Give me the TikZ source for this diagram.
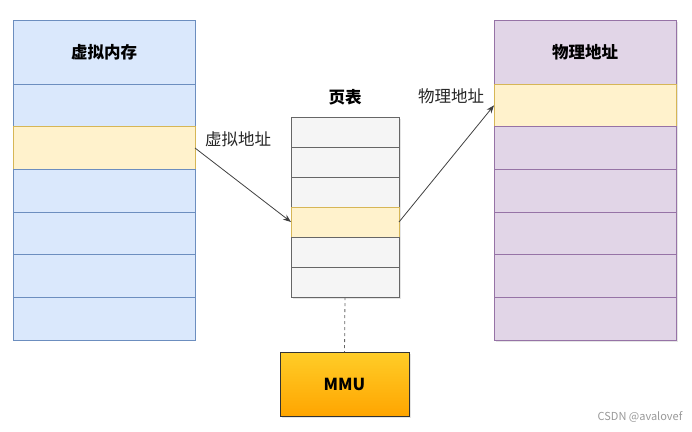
\documentclass[tikz,border=0pt]{standalone}
\usepackage{fontspec}
\setmainfont{Noto Sans CJK SC}
\usepackage{tikz}
\usepackage{xcolor}
\usetikzlibrary{shadows,arrows.meta}

\definecolor{vmfill}{HTML}{DAE8FC}
\definecolor{vmline}{HTML}{6C8EBF}
\definecolor{hitfill}{HTML}{FFF2CC}
\definecolor{hitline}{HTML}{D6B656}
\definecolor{pmfill}{HTML}{E1D5E7}
\definecolor{pmline}{HTML}{9673A6}
\definecolor{ptfill}{HTML}{F5F5F5}
\definecolor{ptline}{HTML}{666666}
\definecolor{mmutop}{HTML}{FFCD28}
\definecolor{mmubot}{HTML}{FFA500}

\tikzset{
  cell/.style={draw, line width=0.8pt, inner sep=0pt, outer sep=0pt},
  soft/.style={drop shadow={shadow xshift=1.5pt, shadow yshift=-1.5pt, fill=black!20}},
  vmcell/.style={cell, fill=vmfill, draw=vmline, minimum width=182pt, minimum height=42.67pt},
  vmhit/.style={cell, fill=hitfill, draw=hitline, minimum width=182pt, minimum height=42.67pt},
  pmcell/.style={cell, soft, fill=pmfill, draw=pmline, minimum width=182pt, minimum height=42.67pt},
  pmhit/.style={cell, soft, fill=hitfill, draw=hitline, minimum width=182pt, minimum height=42.67pt},
  ptcell/.style={cell, soft, fill=ptfill, draw=ptline, minimum width=108pt, minimum height=30pt},
  pthit/.style={cell, soft, fill=hitfill, draw=hitline, minimum width=108pt, minimum height=30pt},
  title/.style={font=\fontsize{16.5}{18}\selectfont\bfseries},
  tag/.style={font=\fontsize{16.5}{18}\selectfont, text=black!85},
  link/.style={-{Stealth[length=8pt,width=6pt]}, line width=0.8pt, draw=black!75},
}

\begin{document}
\begin{tikzpicture}[x=1pt,y=-1pt]
  \useasboundingbox (0,0) rectangle (692,431);

  % Virtual memory column, header plus six rows
  \node[vmcell, minimum height=64pt, title] (vm0) at (104,52) {虚拟内存};
  \foreach \i/\sty in {1/vmcell,2/vmhit,3/vmcell,4/vmcell,5/vmcell,6/vmcell}
    \node[\sty] (vm\i) at (104,{84+42.67*(\i-0.5)}) {};

  % Physical memory column, header plus six rows
  \node[pmcell, minimum height=64pt, title] (pm0) at (585,52) {物理地址};
  \foreach \i/\sty in {1/pmhit,2/pmcell,3/pmcell,4/pmcell,5/pmcell,6/pmcell}
    \node[\sty] (pm\i) at (585,{84+42.67*(\i-0.5)}) {};

  % Page table, six entries
  \node[title] (pttitle) at (345,97) {页表};
  \foreach \i/\sty in {1/ptcell,2/ptcell,3/ptcell,4/pthit,5/ptcell,6/ptcell}
    \node[\sty] (pt\i) at (345,{117+30*(\i-0.5)}) {};

  % MMU below the page table
  \node[cell, soft, draw=black!80, top color=mmutop, bottom color=mmubot,
        minimum width=129pt, minimum height=64pt, title] (mmu) at (344.5,384) {MMU};
  \draw[dashed, draw=ptline, line width=0.8pt] (pt6.south) -- (mmu.north);

  % Lookups
  \draw[link] (vm2.east) -- (pt4.west);
  \draw[link] (pt4.east) -- (pm1.west);
  \node[tag] (vaddr) at (238,139) {虚拟地址};
  \node[tag] (paddr) at (451,96) {物理地址};

  \node[font=\fontsize{11}{12}\selectfont, text=black!40] (mark) at (640,417) {CSDN @avalovef};
\end{tikzpicture}
\end{document}
